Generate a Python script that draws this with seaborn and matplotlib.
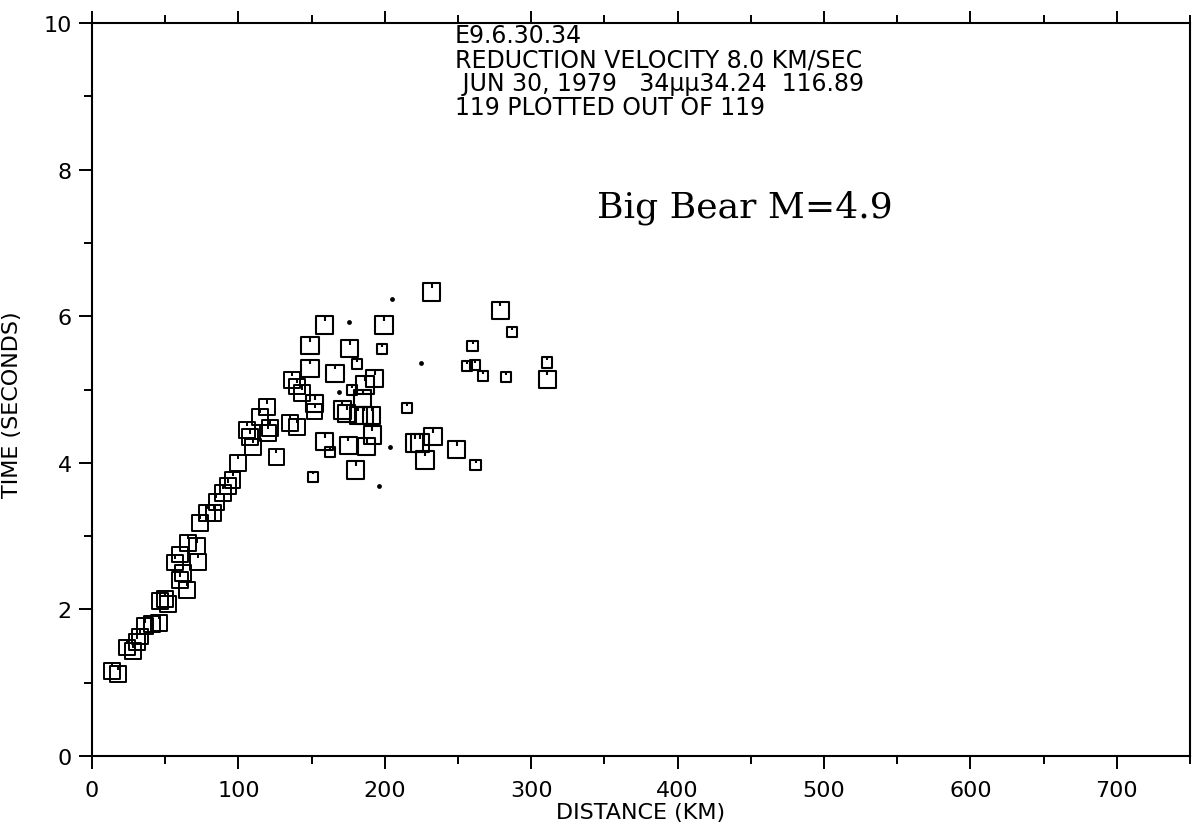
import numpy as np
import pandas as pd
import matplotlib
matplotlib.use("Agg")
import matplotlib.pyplot as plt
from matplotlib.path import Path
from matplotlib.ticker import MultipleLocator
import seaborn as sns

# ---------------- data (distance km, reduced time s) ----------------
near_dist = [13.5, 18, 23.7, 28, 30.5, 33, 36, 40.8, 46, 46.5, 50, 52, 56.7, 60, 60, 62,
             65, 65.5, 71.5, 72.5, 74, 78.5, 83, 85, 89.5, 93, 96, 100, 106, 108, 110,
             115, 119.5, 121.5, 120.5, 126, 136.5, 140, 143.5, 135, 140, 152]
near_time = [1.16, 1.12, 1.48, 1.43, 1.55, 1.63, 1.77, 1.80, 1.82, 2.11, 2.14, 2.07, 2.64,
             2.75, 2.40, 2.50, 2.27, 2.91, 2.86, 2.65, 3.18, 3.32, 3.32, 3.47, 3.59, 3.68,
             3.77, 4.00, 4.45, 4.35, 4.22, 4.63, 4.76, 4.48, 4.41, 4.08, 5.13, 5.04, 4.95,
             4.54, 4.49, 4.70]

large_dist = [232, 279, 159, 199.5, 149, 176, 311, 149, 166, 193, 186.5, 185, 152, 171, 174,
              182, 186, 191, 159, 175, 187.5, 191.5, 220.5, 224, 233, 227.5, 249, 180]
large_time = [6.33, 6.08, 5.88, 5.88, 5.60, 5.56, 5.14, 5.29, 5.22, 5.15, 5.06, 4.88, 4.81,
              4.72, 4.67, 4.65, 4.65, 4.65, 4.29, 4.24, 4.22, 4.38, 4.27, 4.27, 4.36, 4.04,
              4.18, 3.90]

small_dist = [287, 198, 260, 181, 256, 261.5, 267, 283, 311, 177.5, 215, 162.5, 262, 151]
small_time = [5.78, 5.55, 5.59, 5.35, 5.32, 5.33, 5.18, 5.17, 5.37, 4.99, 4.75, 4.15, 3.97, 3.81]

dot_dist = [205, 175.5, 225, 169, 203.5, 196]
dot_time = [6.24, 5.92, 5.36, 4.97, 4.22, 3.69]

header_lines = ["E9.6.30.34",
                "REDUCTION VELOCITY 8.0 KM/SEC",
                " JUN 30, 1979   34\u00b5\u00b534.24  116.89",
                "119 PLOTTED OUT OF 119"]
title_text = "Big Bear M=4.9"
x_ticks = [0, 100, 200, 300, 400, 500, 600, 700]
y_ticks = [0, 2, 4, 6, 8, 10]

# ---------------- style ----------------
sns.set_style("ticks")
plt.rcParams["font.family"] = ["DejaVu Sans"]
for k in ["text.color", "axes.labelcolor", "xtick.color", "ytick.color", "axes.edgecolor"]:
    plt.rcParams[k] = "black"

W, H = 1193, 828
fig = plt.figure(figsize=(W / 100, H / 100), dpi=100)
L, R, T, B = 92, 1190, 24, 757
ax = fig.add_axes([L / W, 1 - B / H, (R - L) / W, (B - T) / H])

verts = [(-1, -1), (1, -1), (1, 1), (-1, 1), (-1, -1), (0, 1), (0, 0.45)]
codes = [Path.MOVETO, Path.LINETO, Path.LINETO, Path.LINETO, Path.CLOSEPOLY,
         Path.MOVETO, Path.LINETO]
sq = Path(verts, codes)

def draw(xs, ys, s, marker, lw, filled=False):
    df = pd.DataFrame({"d": xs, "t": ys})
    if filled:
        sns.scatterplot(data=df, x="d", y="t", ax=ax, marker="o", s=s,
                        color="black", edgecolor="black", linewidth=0, zorder=3)
    else:
        sns.scatterplot(data=df, x="d", y="t", ax=ax, marker=marker, s=s,
                        facecolors="none", edgecolors="black", linewidths=lw, zorder=3)

draw(near_dist, near_time, 130, sq, 1.4)
draw(large_dist, large_time, 155, sq, 1.5)
draw(small_dist, small_time, 55, sq, 1.5)
draw(dot_dist, dot_time, 12, "o", 0, filled=True)

ax.set_xlim(0, 750)
ax.set_ylim(0, 10)
ax.set_xticks(x_ticks)
ax.set_yticks(y_ticks)
ax.xaxis.set_minor_locator(MultipleLocator(50))
ax.yaxis.set_minor_locator(MultipleLocator(1))
ax.tick_params(axis="x", which="both", top=True, bottom=True, direction="out",
               width=1.4, color="black")
ax.tick_params(axis="x", which="major", length=9, pad=8, labelsize=16)
ax.tick_params(axis="x", which="minor", length=6)
ax.tick_params(axis="y", which="both", left=True, right=False, direction="out",
               width=1.4, color="black")
ax.tick_params(axis="y", which="major", length=9.5, pad=5, labelsize=16)
ax.tick_params(axis="y", which="minor", length=5.5)
for sp in ax.spines.values():
    sp.set_visible(True)
    sp.set_linewidth(1.5)
    sp.set_color("black")

ax.set_xlabel("DISTANCE (KM)", fontsize=16, labelpad=2)
ax.set_ylabel("TIME (SECONDS)", fontsize=16)
ax.yaxis.set_label_coords(-0.064, 0.48)

for i, line in enumerate(header_lines):
    fig.text(455 / W, 1 - (36 + 24 * i) / H, line, fontsize=17,
             va="center", ha="left")

fig.text(597 / W, 1 - 208 / H, title_text, fontsize=26, family=["DejaVu Serif"],
         va="center", ha="left")

fig.savefig("out.png", dpi=100, facecolor="white")
